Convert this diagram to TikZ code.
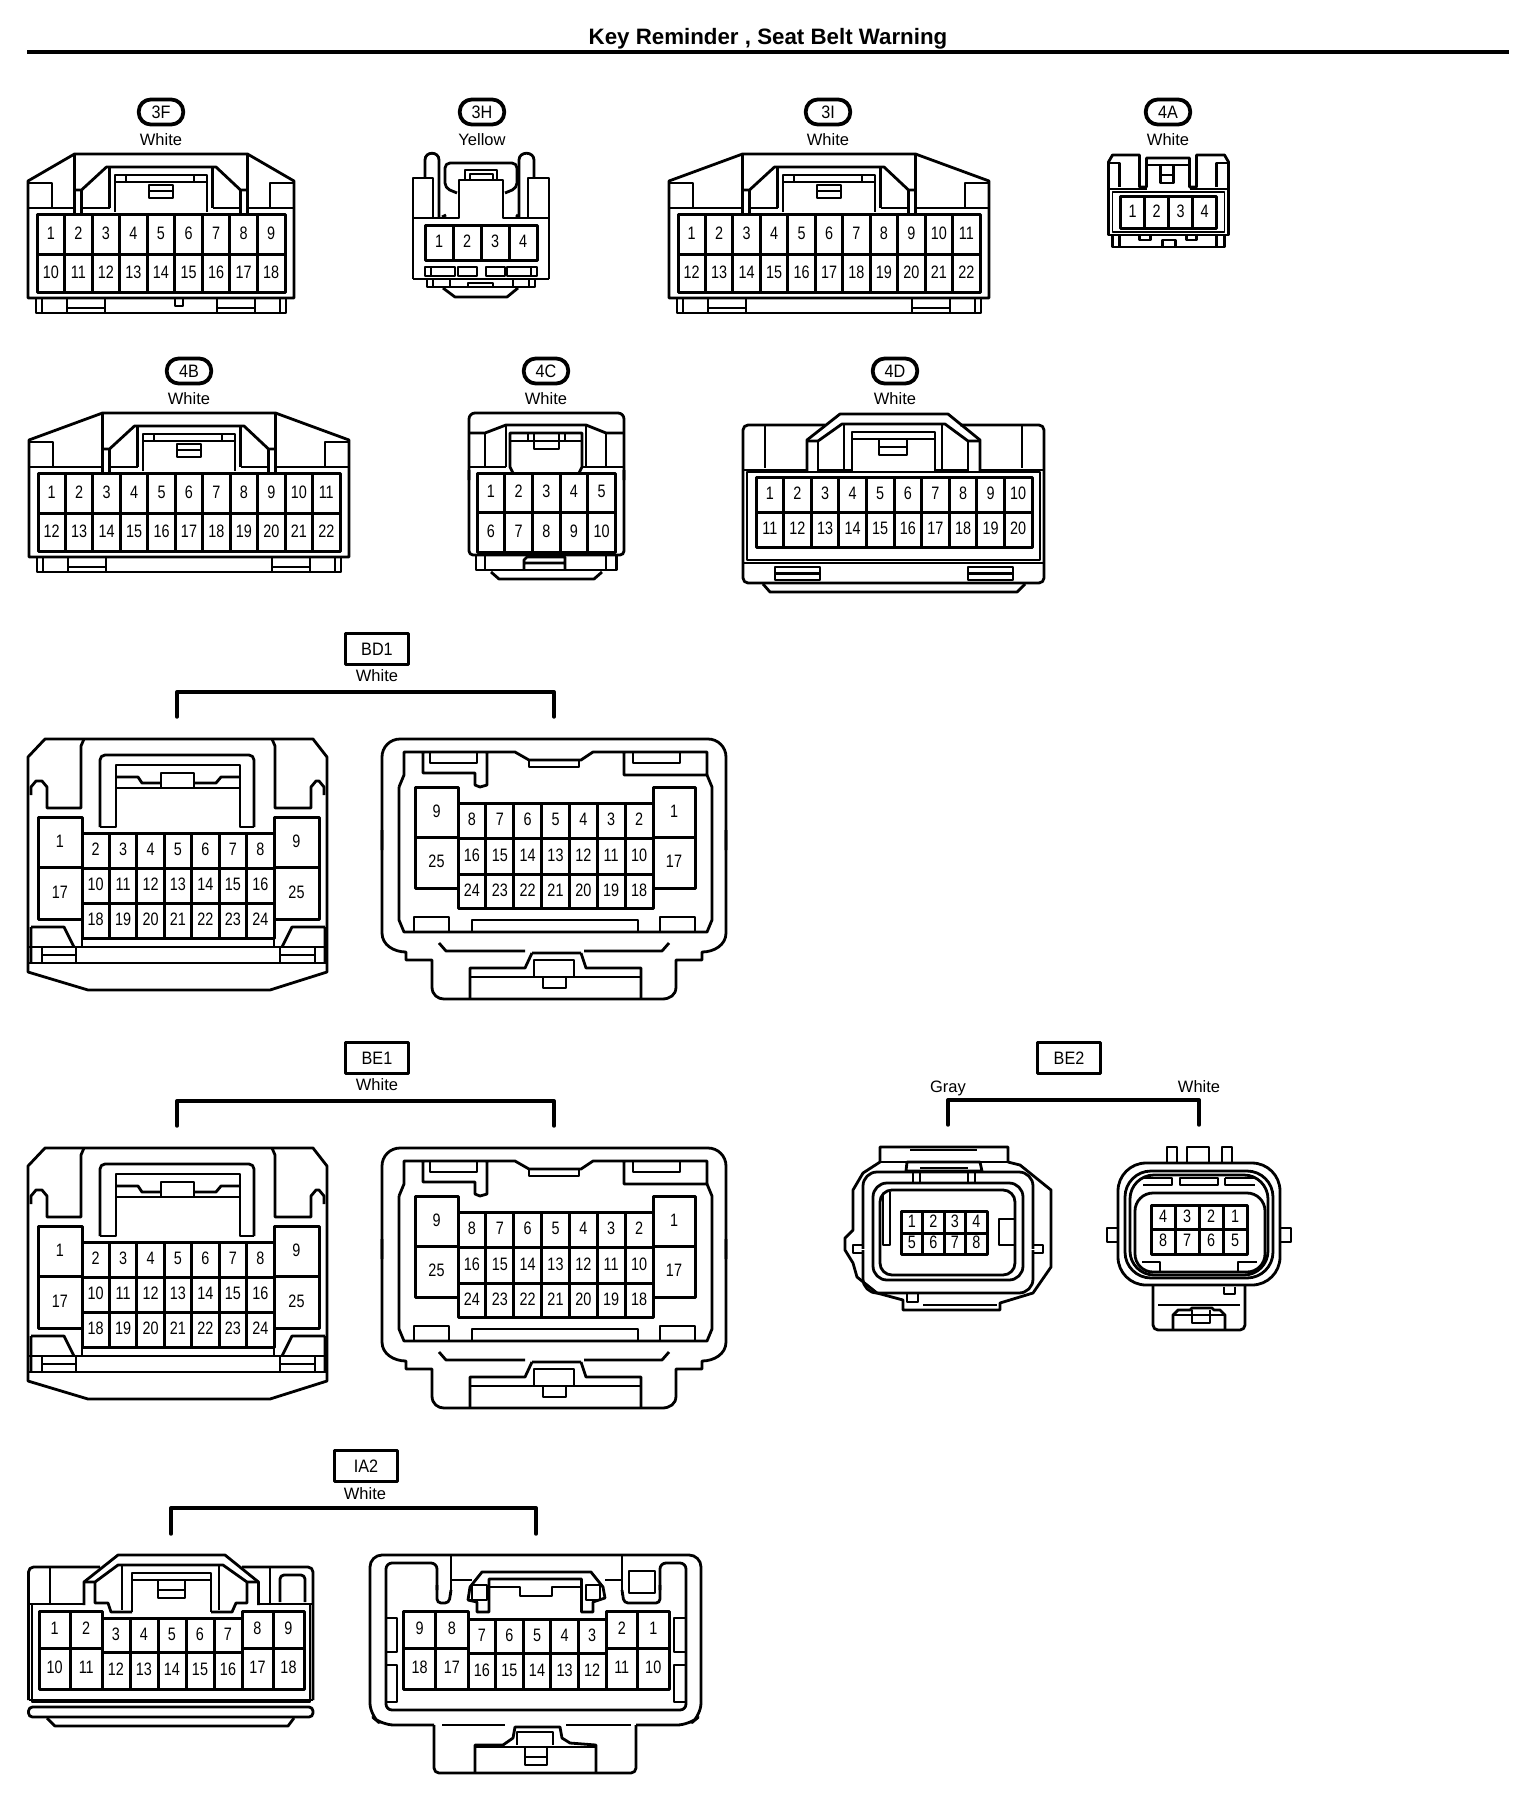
\documentclass[tikz,border=0pt]{standalone}
\usepackage{fontspec}
\setmainfont{Liberation Sans}
\newfontfamily\pinfont[FakeStretch=0.8]{Liberation Sans}
\newfontfamily\tagfont[FakeStretch=0.9]{Liberation Sans}
\usetikzlibrary{calc,positioning}

\tikzset{
  wire/.style={line width=2.8pt,line join=round},
  pincell/.style={line width=3pt},
  pinlabel/.style={inner sep=0pt,yshift=1pt,font=\pinfont\fontsize{18}{18}\selectfont},
  colorlabel/.style={inner sep=0pt,font=\fontsize{16.5}{16.5}\selectfont},
  tagoval/.style={draw,line width=3.8pt,rounded corners=12pt,minimum width=44.5pt,minimum height=25pt,inner sep=0pt,font=\tagfont\fontsize{18}{18}\selectfont},
  tagbox/.style={draw,line width=3.2pt,minimum width=63pt,minimum height=31pt,inner sep=0pt,font=\tagfont\fontsize{18}{18}\selectfont},
  bracket/.style={line width=3.4pt,line cap=round}
}

% one row of pin cells: name, columns, x from, x to, y from, y to, numbers
\newcommand{\pinrow}[7]{
  \pgfmathsetmacro{\cellw}{((#4)-(#3))/#2}
  \foreach \n [count=\i] in {#7} {
    \pgfmathsetmacro{\xa}{(#3)+(\i-1)*\cellw}
    \pgfmathsetmacro{\xb}{(#3)+\i*\cellw}
    \draw[pincell] (\xa,#5) rectangle (\xb,#6);
    \node[pinlabel] (#1-\n) at ({(\xa+\xb)/2},{(#5+#6)/2}) {\n};
  }
}

% flat housing with the clip on top: name, centre x, top y, half width, columns, rows
\newcommand{\wideclip}[7]{
  \begin{scope}[shift={(#2,#3)}]
    \def\hw{#4}
    \draw (-\hw,27) -- (-86.5,0) -- (86.5,0) -- (\hw,27) -- (\hw,144) -- (-\hw,144) -- cycle;
    % corner boxes
    \draw (-\hw,29) -- (-\hw+24,29) -- (-\hw+24,54);
    \draw (\hw,29) -- (\hw-24,29) -- (\hw-24,54);
    \draw (-\hw,54) -- (-86.5,54) (\hw,54) -- (86.5,54);
    % foot
    \draw (-\hw+8,144) -- (-\hw+8,159) -- (\hw-8,159) -- (\hw-8,144);
    \draw (-\hw+14,144) -- (-\hw+14,159) (\hw-14,144) -- (\hw-14,159);
    \draw (-\hw+39,144) -- (-\hw+39,159) (-\hw+77,144) -- (-\hw+77,159) (-\hw+39,154) -- (-\hw+77,154);
    \draw (\hw-39,144) -- (\hw-39,159) (\hw-77,144) -- (\hw-77,159) (\hw-39,154) -- (\hw-77,154);
    % clip
    \draw (-86.5,0) -- (-86.5,60) (86.5,0) -- (86.5,60);
    \draw (-86.5,36) -- (-79.5,36) -- (-54.5,13) -- (55,13) -- (79.5,36) -- (86.5,36);
    \draw (-79.5,36) -- (-79.5,60) (79.5,36) -- (79.5,60);
    \draw (-79.5,54) -- (-51.5,54) (79.5,54) -- (51.5,54);
    \draw (-51.5,13) -- (-51.5,54) (51.5,13) -- (51.5,54);
    \draw (-46,58) -- (-46,21) -- (46,21) -- (46,58);
    \draw (-46,28) -- (46,28) (-35,21) -- (-35,28) (33,21) -- (33,28);
    \draw (-12,31) rectangle (12,44) (-12,37) -- (12,37);
    \pinrow{#1a}{#5}{-\hw+9}{\hw-9}{60}{100}{#6}
    \pinrow{#1b}{#5}{-\hw+9}{\hw-9}{100}{138}{#7}
  \end{scope}
}

% big connector, terminal side
\newcommand{\bigleft}[2]{
  \begin{scope}[shift={(0,#2)}]
    \draw (45,739) -- (313,739) -- (327,757) -- (327,972) -- (270,990) -- (88,990) -- (28,972) -- (28,757) -- cycle;
    \draw (28,947) -- (327,947) (28,963) -- (327,963);
    \draw (31,795) -- (31,787) -- (36,781) -- (42,781) -- (47,787) -- (47,808) -- (81,808) -- (81,746) -- (84,739);
    \draw (324,795) -- (324,787) -- (319,781) -- (316,781) -- (311,787) -- (311,808) -- (275,808) -- (275,746) -- (272,739);
    \draw[rounded corners=5pt] (100,827) -- (100,755) -- (254,755) -- (254,827);
    \draw (100,827) -- (116,827) -- (116,765) -- (240,765) -- (240,827) -- (254,827);
    \draw (116,777) -- (138,777) -- (142,783) -- (161,783) (194,783) -- (216,783) -- (221,777) -- (240,777);
    \draw (161,788) -- (161,773) -- (194,773) -- (194,788) (116,788) -- (240,788);
    \draw (31,927) -- (64,927) -- (74,947) (325,927) -- (292,927) -- (282,947) (31,927) -- (31,963) (325,927) -- (325,963);
    \draw (42,947) -- (42,963) (76,947) -- (76,963) (42,955) -- (76,955);
    \draw (280,947) -- (280,963) (315,947) -- (315,963) (280,955) -- (315,955);
    \draw (82,938) -- (82,947) (274,938) -- (274,947);
    \pinrow{#1a}{1}{38}{82}{817}{867}{1}
    \pinrow{#1b}{1}{38}{82}{867}{919}{17}
    \pinrow{#1c}{7}{82}{274}{833}{868}{2,...,8}
    \pinrow{#1d}{7}{82}{274}{868}{903}{10,...,16}
    \pinrow{#1e}{7}{82}{274}{903}{938}{18,...,24}
    \pinrow{#1f}{1}{274}{319}{817}{867}{9}
    \pinrow{#1g}{1}{274}{319}{867}{919}{25}
  \end{scope}
}

% big connector, wire side
\newcommand{\bigright}[2]{
  \begin{scope}[shift={(-2,#2)}]
    \draw[rounded corners=18pt] (384,850) -- (384,739) -- (728,739) -- (728,850);
    \draw (384,830) -- (384,933) .. controls (384,945) and (396,952) .. (408,952) -- (408,960) -- (434,960) -- (434,987) .. controls (434,995) and (440,999) .. (446,999) -- (664,999) .. controls (672,999) and (678,995) .. (678,987) -- (678,960) -- (704,960) -- (704,952) .. controls (716,952) and (728,945) .. (728,933) -- (728,830);
    % inner frame
    \draw (401,787) -- (406,775) -- (406,752) -- (489,752) (425,752) -- (425,773) -- (477,773) -- (477,785) -- (482,787) -- (489,785) -- (489,752) -- (517,752) -- (531,760) -- (583,760) -- (595,752) -- (626,752) -- (626,775) -- (709,775) -- (709,752) -- (626,752);
    \draw (709,775) -- (714,787) -- (714,920) -- (709,932) -- (406,932) -- (401,920) -- (401,787);
    \draw (432,752) -- (432,763) -- (479,763) -- (479,752);
    \draw (635,752) -- (635,763) -- (682,763) -- (682,752);
    \draw (531,760) -- (531,767) -- (581,767) -- (581,760);
    \draw (416,932) -- (416,917) -- (451,917) -- (451,932);
    \draw (474,932) -- (474,920) -- (640,920) -- (640,932);
    \draw (662,932) -- (662,917) -- (697,917) -- (697,932);
    % latch
    \draw (441,943) -- (448,951) -- (527,951) (586,951) -- (664,951) -- (671,943);
    \draw (534,953) -- (583,953) (534,953) -- (527,968) -- (472,968) -- (472,999);
    \draw (583,953) -- (588,968) -- (643,968) -- (643,999);
    \draw (472,977) -- (643,977);
    \draw (536,977) -- (536,960) -- (576,960) -- (576,977);
    \draw (545,977) -- (545,988) -- (568,988) -- (568,977);
    \pinrow{#1a}{1}{417}{460}{787}{837}{9}
    \pinrow{#1b}{1}{417}{460}{837}{888}{25}
    \pinrow{#1c}{7}{460}{655}{803}{838}{8,7,6,5,4,3,2}
    \pinrow{#1d}{7}{460}{655}{838}{874}{16,15,14,13,12,11,10}
    \pinrow{#1e}{7}{460}{655}{874}{908}{24,23,22,21,20,19,18}
    \pinrow{#1f}{1}{655}{697}{787}{837}{1}
    \pinrow{#1g}{1}{655}{697}{837}{888}{17}
  \end{scope}
}

\begin{document}
\begin{tikzpicture}[x=1pt,y=-1pt,wire]
\useasboundingbox (0,0) rectangle (1536,1794);

% Title
\node[inner sep=0pt,font=\bfseries\fontsize{22.3}{22.3}\selectfont] (title) at (768,39) {Key Reminder , Seat Belt Warning};
\coordinate (ruleL) at (27,52);
\coordinate (ruleR) at (1509,52);
\draw[line width=4pt] (ruleL) -- (ruleR);

% Tags and colours of the top two rows
\foreach \t/\x/\y/\c in {3F/161/112/White,3H/482/112/Yellow,3I/828/112/White,4A/1168/112/White,4B/189/371/White,4C/546/371/White,4D/895/371/White} {
  \node[tagoval] (tag\t) at (\x,\y) {\t};
  \node[colorlabel,below=6pt of tag\t] (col\t) {\c};
}

% 3F, 3I, 4B
\wideclip{3F}{161}{154}{133}{9}{1,...,9}{10,...,18}
\wideclip{3I}{829}{154}{160}{11}{1,...,11}{12,...,22}
\wideclip{4B}{189}{413}{160}{11}{1,...,11}{12,...,22}
\draw (175,298) -- (175,306) -- (183,306) -- (183,298);

% 3H
\draw (413,279) -- (413,178) -- (433,178) -- (433,217);
\draw (549,279) -- (549,178) -- (528,178) -- (528,217);
\draw (413,279) -- (549,279);
\draw (425,178) -- (425,160) .. controls (425,151) and (439,151) .. (439,160) -- (439,217);
\draw (519,217) -- (519,160) .. controls (519,151) and (534,151) .. (534,160) -- (534,178);
\draw (413,218) -- (459,218) -- (459,180) -- (503,180) -- (503,218) -- (549,218);
\draw[rounded corners=5pt] (457,193) -- (445,188) -- (445,163) -- (517,163) -- (517,188) -- (505,193);
\draw (442,217) -- (446,215) (516,215) -- (519,217);
\draw (465,180) -- (465,170) -- (497,170) -- (497,180) (470,180) -- (470,174) -- (493,174) -- (493,180);
\pinrow{3H}{4}{425}{537}{225}{260}{1,2,3,4}
\draw (425,267) rectangle (455,276) (431,267) -- (431,276);
\draw (458,267) rectangle (477,276);
\draw (486,267) rectangle (505,276);
\draw (507,267) rectangle (537,276) (531,267) -- (531,276);
\draw (427,279) -- (427,287) -- (535,287) -- (535,279);
\draw (433,279) -- (433,287) (450,279) -- (450,287) (513,279) -- (513,287) (529,279) -- (529,287);
\draw (468,287) -- (468,283) -- (493,283) -- (493,287);
\draw (443,288) -- (455,297) -- (507,297) -- (518,288);

% 4A
\begin{scope}[shift={(-3.5,0)}]
\draw (1112,189) -- (1112,162) -- (1116,155) -- (1143,155) -- (1143,187) -- (1150,187) -- (1150,158) -- (1193,158) -- (1193,187) -- (1200,187) -- (1200,155) -- (1228,155) -- (1232,162) -- (1232,189);
\draw (1112,163) -- (1123,163) -- (1123,187) (1232,163) -- (1220,163) -- (1220,187);
\draw (1112,189) -- (1150,189) (1193,189) -- (1232,189) (1150,165) -- (1193,165);
\draw (1164,165) -- (1164,183) -- (1177,183) -- (1177,165) (1164,175) -- (1177,175);
\draw (1112,189) -- (1112,235) -- (1232,235) -- (1232,189);
\draw[line width=1.6pt] (1116,192) rectangle (1228,232);
\pinrow{4A}{4}{1124}{1220}{196}{228}{1,2,3,4}
\draw (1116,235) -- (1116,247) -- (1228,247) -- (1228,235) (1123,235) -- (1123,247) (1220,235) -- (1220,247);
\draw (1143,235) -- (1143,240) -- (1154,240) -- (1154,235);
\draw (1190,235) -- (1190,240) -- (1200,240) -- (1200,235);
\draw (1166,247) -- (1166,240) -- (1179,240) -- (1179,247);
\end{scope}

% 4C
\begin{scope}[shift={(-3,0)}]
\draw[rounded corners=6pt] (472,480) -- (472,413) -- (627,413) -- (627,480);
\draw[rounded corners=4pt] (472,470) -- (472,555) -- (627,555) -- (627,470);
\draw (472,433) -- (488,433) -- (509,425) -- (589,425) -- (609,433) -- (627,433);
\draw (488,433) -- (488,467) (609,433) -- (609,467);
\draw (472,467) -- (509,467) (585,467) -- (627,467);
\draw (509,425) -- (509,467) (589,425) -- (589,467);
\draw (516,473) -- (513,467) -- (513,433) -- (585,433) -- (585,467) -- (582,473);
\draw (513,441) -- (585,441) (531,433) -- (531,441) (568,433) -- (568,441);
\draw (537,433) -- (537,449) -- (562,449) -- (562,433);
\pinrow{4C}{5}{480}{618.5}{473}{512}{1,...,5}
\pinrow{4Cb}{5}{480}{618.5}{512}{552}{6,...,10}
\draw (479,555) -- (479,570) -- (619.5,570) -- (619.5,555) (488,555) -- (488,570) (609,555) -- (609,570);
\draw (527,570) -- (527,560) -- (530,557) -- (568,557) -- (568,570) (527,563) -- (568,563);
\draw (494,572) -- (502,579) -- (597,579) -- (605,572);
\end{scope}

% 4D
\draw[rounded corners=5pt] (825,425) -- (743,425) -- (743,583) -- (1044,583) -- (1044,425) -- (960,425);
\draw (807,472) -- (807,440) -- (840,414) -- (948,414) -- (980,440) -- (980,472);
\draw (807,441) -- (818,441) -- (842,424) -- (945,424) -- (968,441) -- (980,441);
\draw (818,441) -- (818,472) (968,441) -- (968,472);
\draw (844,424) -- (844,470) (942,424) -- (942,470);
\draw (852,472) -- (852,432) -- (935,432) -- (935,472) (852,439) -- (935,439);
\draw (879,439) -- (879,455) -- (907,455) -- (907,439) (879,447) -- (907,447);
\draw (743,470) -- (807,470) (818,470) -- (852,470) (935,470) -- (968,470) (980,470) -- (1044,470);
\draw (765,425) -- (765,468) (1022,425) -- (1022,468);
\draw (747,472) -- (1040,472) -- (1040,560) -- (747,560) -- cycle;
\pinrow{4D}{10}{756}{1032}{477}{512}{1,...,10}
\pinrow{4Db}{10}{756}{1032}{512}{547}{11,...,20}
\draw (743,563) -- (1044,563);
\draw (775,567) rectangle (820,580) (775,573.5) -- (820,573.5);
\draw (968,567) rectangle (1013,580) (968,573.5) -- (1013,573.5);
\draw (763,584) -- (770,592) -- (1017,592) -- (1025,584);

% BD1
\node[tagbox] (tagBD1) at (377,649) {BD1};
\node[colorlabel] (colBD1) at (377,676) {White};
\coordinate (bd1L) at (177,717);
\coordinate (bd1M) at (365,692);
\coordinate (bd1R) at (554,717);
\draw[bracket] (bd1L) |- (bd1M) -| (bd1R);
\bigleft{BD1L}{0}
\bigright{BD1R}{0}

% BE1
\node[tagbox] (tagBE1) at (377,1058) {BE1};
\node[colorlabel] (colBE1) at (377,1085) {White};
\coordinate (be1L) at (177,1126);
\coordinate (be1M) at (365,1101);
\coordinate (be1R) at (554,1126);
\draw[bracket] (be1L) |- (be1M) -| (be1R);
\bigleft{BE1L}{409}
\bigright{BE1R}{409}

% BE2
\node[tagbox] (tagBE2) at (1069,1058) {BE2};
\node[colorlabel,anchor=base] (colGray) at (948,1092) {Gray};
\node[colorlabel,anchor=base] (colWhite) at (1199,1092) {White};
\coordinate (be2L) at (948,1125);
\coordinate (be2M) at (1070,1100);
\coordinate (be2R) at (1199,1125);
\draw[bracket] (be2L) |- (be2M) -| (be2R);

% BE2 gray
\draw (880,1162) -- (880,1147) -- (1008,1147) -- (1008,1162) -- (1020,1165) -- (1051,1190) -- (1051,1267) -- (1033,1293) -- (1000,1303) -- (1000,1310) -- (903,1310) -- (903,1300) -- (877,1293) -- (857,1277) -- (853,1263) -- (845,1250) -- (845,1238) -- (853,1230) -- (853,1190) -- (863,1173) -- cycle;
\draw (880,1162) -- (907,1162) (980,1162) -- (1008,1162) (910,1150) -- (977,1150) (923,1305) -- (997,1305);
\draw[rounded corners=14pt] (863,1172) rectangle (1033,1293);
\draw[white,line width=5pt] (863,1249) -- (863,1249.1) (1033,1249) -- (1033,1249.1);
\draw (863,1245) -- (853,1245) -- (853,1253) -- (863,1253);
\draw (1033,1245) -- (1043,1245) -- (1043,1253) -- (1033,1253);
\draw[rounded corners=14pt] (873,1183) rectangle (1023,1280);
\draw[rounded corners=12pt] (880,1190) rectangle (1015,1275);
\draw (883,1195) -- (883,1245) -- (890,1245) -- (890,1192);
\draw (1015,1219) -- (999,1219) -- (999,1245) -- (1015,1245);
\draw (906,1171) -- (907,1162) -- (980,1162) -- (982,1171) -- cycle;
\draw (913,1171) -- (913,1183) (920,1171) -- (920,1183) (968,1171) -- (968,1183) (975,1171) -- (975,1183);
\draw (920,1168) -- (968,1168);
\draw (907,1293) -- (907,1302) -- (918,1302) -- (918,1293);
\pinrow{BE2g}{4}{901}{987}{1211}{1233}{1,2,3,4}
\pinrow{BE2gb}{4}{901}{987}{1233}{1254}{5,6,7,8}

% BE2 white
\draw[rounded corners=28pt] (1118,1163) rectangle (1280,1285);
\draw[rounded corners=26pt] (1125,1171) rectangle (1273,1278);
\draw[rounded corners=24pt] (1130,1175) rectangle (1268,1275);
\draw[rounded corners=18pt] (1135,1193) rectangle (1265,1272);
\draw (1167,1162) -- (1167,1147) -- (1177,1147) -- (1177,1162);
\draw (1187,1162) -- (1187,1147) -- (1209,1147) -- (1209,1162);
\draw (1222,1162) -- (1222,1147) -- (1232,1147) -- (1232,1162);
\draw (1143,1178) -- (1172,1178) -- (1172,1185) -- (1143,1185);
\draw (1180,1178) rectangle (1218,1185);
\draw (1225,1178) -- (1255,1178) (1225,1178) -- (1225,1185) -- (1255,1185);
\draw (1118,1228) -- (1107,1228) -- (1107,1242) -- (1118,1242);
\draw (1280,1228) -- (1291,1228) -- (1291,1242) -- (1280,1242);
\pinrow{BE2w}{4}{1151}{1247}{1205}{1229}{4,3,2,1}
\pinrow{BE2wb}{4}{1151}{1247}{1229}{1254}{8,7,6,5}
\draw (1142,1262) -- (1160,1262) -- (1160,1272) (1257,1262) -- (1238,1262) -- (1238,1272);
\draw[rounded corners=5pt] (1153,1285) -- (1153,1330) -- (1245,1330) -- (1245,1285);
\draw (1158,1305) -- (1240,1305);
\draw (1224,1287) -- (1224,1294) -- (1235,1294) -- (1235,1287);
\draw (1173,1330) -- (1173,1315) -- (1178,1310) -- (1190,1310) -- (1192,1308) -- (1212,1308) -- (1214,1310) -- (1220,1310) -- (1225,1315) -- (1225,1330);
\draw (1173,1315) -- (1225,1315);
\draw (1192,1310) -- (1192,1323) -- (1210,1323) -- (1210,1310);

% IA2
\node[tagbox] (tagIA2) at (366,1466) {IA2};
\node[colorlabel] (colIA2) at (365,1494) {White};
\coordinate (ia2L) at (171,1534);
\coordinate (ia2M) at (350,1508);
\coordinate (ia2R) at (536,1534);
\draw[bracket] (ia2L) |- (ia2M) -| (ia2R);

% IA2 terminal side
\draw (84,1605) -- (84,1582) -- (118,1555) -- (225,1555) -- (258.5,1582) -- (258.5,1605);
\draw[rounded corners=5pt] (100,1567) -- (28.5,1567) -- (28.5,1700) (313,1700) -- (313,1567) -- (242,1567);
\draw (84,1582) -- (95,1582) -- (118,1565) -- (223,1565) -- (247,1582) -- (258.5,1582);
\draw (95,1582) -- (95,1603) -- (108,1603) -- (111,1612) -- (132,1612) (211,1612) -- (232,1612) -- (236,1603) -- (247,1603) -- (247,1582);
\draw (122,1565) -- (122,1610) (219,1565) -- (219,1610);
\draw (132,1612) -- (132,1573) -- (211,1573) -- (211,1612) (132,1580) -- (211,1580);
\draw (158,1580) -- (158,1598) -- (185,1598) -- (185,1580) (158,1590) -- (185,1590);
\draw (28.5,1604) -- (84,1604) (258,1604) -- (313,1604);
\draw (50,1567) -- (50,1603) (270,1567) -- (270,1603);
\draw[rounded corners=4pt] (280,1602) -- (280,1575) -- (305,1575) -- (305,1602);
\draw (32,1605) -- (32,1702) -- (310,1702) -- (310,1605);
\draw (28.5,1700) -- (313,1700);
\pinrow{IA2a}{2}{39}{102}{1611}{1648}{1,2}
\pinrow{IA2b}{2}{39}{102}{1648}{1689}{10,11}
\pinrow{IA2c}{5}{102}{242}{1618}{1652}{3,...,7}
\pinrow{IA2d}{5}{102}{242}{1652}{1689}{12,...,16}
\pinrow{IA2e}{2}{242}{304}{1611}{1648}{8,9}
\pinrow{IA2f}{2}{242}{304}{1648}{1689}{17,18}
\draw[rounded corners=4pt] (28.5,1707) rectangle (313,1717);
\draw (47,1718) -- (55,1726) -- (288,1726) -- (294,1718);

% IA2 wire side
\begin{scope}[shift={(-2,0)}]
\draw[rounded corners=12pt] (436,1725) -- (384,1725) -- (372,1715) -- (372,1555) -- (703,1555) -- (703,1715) -- (691,1725) -- (638,1725);
\draw[rounded corners=5pt] (436,1725) -- (436,1773) -- (638,1773) -- (638,1725);
\draw[rounded corners=6pt] (439,1590) -- (439,1563) -- (388,1563) -- (388,1710) -- (688,1710) -- (688,1563) -- (662,1563) -- (662,1590);
\draw[rounded corners=4pt] (439,1585) -- (439,1603) -- (451,1603) -- (453,1590);
\draw (453,1595) -- (453,1555) (453,1580) -- (474,1580);
\draw[rounded corners=4pt] (662,1585) -- (662,1603) -- (626,1603) -- (624,1590);
\draw (624,1595) -- (624,1555) (607,1580) -- (624,1580);
\draw (472,1587) -- (484,1572) -- (593,1572) -- (605,1587) -- (607,1598) -- (595,1602) -- (595,1612) -- (583.5,1612) -- (583.5,1579) -- (491,1579) -- (491,1612) -- (479,1612) -- (479,1602) -- (470,1600) -- cycle;
\draw (474,1585) rectangle (489,1600) (588,1585) rectangle (602,1600);
\draw (491,1587) -- (522,1587) -- (522,1596) -- (554,1596) -- (554,1587) -- (583.5,1587);
\draw (631,1571) rectangle (657,1593);
\draw (388,1618) -- (399,1618) -- (399,1652) -- (388,1652) (388,1665) -- (399,1665) -- (399,1702) -- (388,1702);
\draw (688,1618) -- (676,1618) -- (676,1652) -- (688,1652) (688,1665) -- (676,1665) -- (676,1702) -- (688,1702);
\pinrow{IA2g}{2}{405.5}{470}{1611}{1648}{9,8}
\pinrow{IA2h}{2}{405.5}{470}{1648}{1689}{18,17}
\pinrow{IA2i}{5}{470}{608}{1619}{1653}{7,6,5,4,3}
\pinrow{IA2j}{5}{470}{608}{1653}{1689}{16,15,14,13,12}
\pinrow{IA2k}{2}{608}{671}{1611}{1648}{2,1}
\pinrow{IA2l}{2}{608}{671}{1648}{1689}{11,10}
\draw (444,1725) -- (507,1725) (568,1725) -- (633,1725);
\draw (477,1773) -- (477,1745) -- (505,1745) -- (515,1738) -- (517,1727) -- (562,1727) -- (564,1738) -- (572,1743) -- (598,1745) -- (598,1773);
\draw (519,1745) -- (519,1732) -- (555,1732) -- (555,1745) (477,1747) -- (598,1747);
\draw (527,1747) -- (527,1765) -- (549,1765) -- (549,1747) (527,1757) -- (549,1757);
\end{scope}

\end{tikzpicture}
\end{document}
